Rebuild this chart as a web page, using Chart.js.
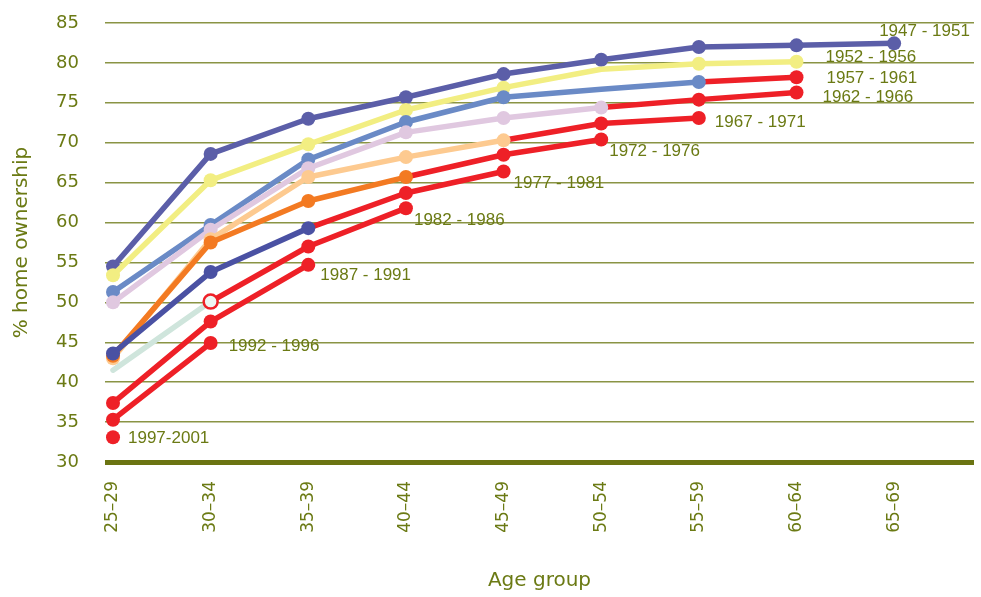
<!DOCTYPE html>
<html>
<head>
<meta charset="utf-8">
<script src="https://cdn.jsdelivr.net/npm/chart.js@4.4.1/dist/chart.umd.min.js"></script>
<style>
  html, body { margin: 0; padding: 0; background: #ffffff; }
  #wrap { width: 981px; height: 597px; position: relative; }
</style>
</head>
<body>
<div id="wrap"><canvas id="chart" width="981" height="597"></canvas></div>
<script>
// Age groups along the horizontal axis
const ageGroups = ['25–29', '30–34', '35–39', '40–44', '45–49', '50–54', '55–59', '60–64', '65–69'];

// Birth cohorts, one line each
const cohortNames = ['1947 - 1951', '1952 - 1956', '1957 - 1961', '1962 - 1966', '1967 - 1971',
                     '1972 - 1976', '1977 - 1981', '1982 - 1986', '1987 - 1991', '1992 - 1996', '1997-2001'];

// % home ownership by age group for each cohort
const c1947 = [54.5, 68.6, 73.0, 75.7, 78.6, 80.4, 82.0, 82.2, 82.45];
const c1952 = [53.4, 65.3, 69.8, 74.1, 76.9, 79.2, 79.9, 80.15];
const c1957 = [51.3, 59.7, 67.9, 72.6, 75.7, 76.7, 77.6, 78.2];
const c1962 = [50.0, 59.1, 66.8, 71.3, 73.1, 74.4, 75.4, 76.3];
const c1967 = [43.0, 57.9, 65.7, 68.2, 70.3, 72.4, 73.1];
const c1972 = [43.3, 57.5, 62.7, 65.7, 68.5, 70.4];
const c1977 = [43.6, 53.8, 59.3, 63.7, 66.4];
const c1982 = [41.5, 50.1, 57.0, 61.8];
const c1987 = [37.4, 47.6, 54.7];
const c1992 = [35.3, 44.9];
const c1997 = [33.1];

// Y axis range and step
const yMin = 30, yMax = 85, yStep = 5;

const cohortValues = [c1947, c1952, c1957, c1962, c1967, c1972, c1977, c1982, c1987, c1992, c1997];

// Styling
const cohortColours = ['#5b5ea8', '#f2ee82', '#6a8ac6', '#e0c8e0', '#fdca90', '#f37a22',
                       '#4a51a3', '#cfe5dc', '#ee2027', '#ee2027', '#ee2027'];
const recentRed = '#ee2027';
// index of the point from which the line turns red (null = never)
const redFrom = [null, null, 6, 5, 4, 3, 2, 1, 0, 0, 0];
// points drawn without a marker
const noMarker = { 1: [5], 2: [5], 7: [0] };
// label offset from each cohort's last point [dx, dy]
const labelOffsets = [[-15, -12], [29, -4], [30, 1], [26, 5], [16, 4], [8, 12], [10, 12], [8, 12], [12, 10], [18, 3], [15, 1]];

const olive = '#6b7a14';
const gridOlive = '#8a9444';

function markerColour(d, i) {
  const rf = redFrom[d];
  if (rf === null) return cohortColours[d];
  if (i > rf || rf === 0) return recentRed;
  if (d === 7 && i === rf) return '#eef6f2';
  return cohortColours[d];
}

const datasets = cohortValues.map((vals, d) => ({
  label: cohortNames[d],
  data: vals.map((v, i) => ({ x: i, y: v })),
  borderColor: cohortColours[d],
  backgroundColor: cohortColours[d],
  borderWidth: 5.5,
  borderCapStyle: 'round',
  borderJoinStyle: 'round',
  tension: 0,
  order: cohortValues.length - d,
  segment: {
    borderColor: ctx => (redFrom[d] !== null && ctx.p0DataIndex >= redFrom[d]) ? recentRed : cohortColours[d]
  },
  pointRadius: ctx => (noMarker[d] && noMarker[d].includes(ctx.dataIndex)) ? 0 : 7,
  pointBackgroundColor: ctx => markerColour(d, ctx.dataIndex),
  pointBorderColor: ctx => (d === 7 && ctx.dataIndex === 1) ? recentRed : markerColour(d, ctx.dataIndex),
  pointBorderWidth: ctx => (d === 7 && ctx.dataIndex === 1) ? 2.5 : 0
}));

// Writes each cohort's name beside its last point
const cohortLabels = {
  id: 'cohortLabels',
  afterDatasetsDraw(chart) {
    const ctx = chart.ctx;
    ctx.save();
    ctx.font = '17px "Liberation Sans", Arial, sans-serif';
    ctx.fillStyle = olive;
    ctx.textAlign = 'left';
    ctx.textBaseline = 'middle';
    chart.data.datasets.forEach((ds, d) => {
      const meta = chart.getDatasetMeta(d);
      const last = meta.data[meta.data.length - 1];
      const [dx, dy] = labelOffsets[d];
      ctx.fillText(ds.label, last.x + dx, last.y + dy);
    });
    ctx.restore();
  }
};

new Chart(document.getElementById('chart'), {
  type: 'line',
  data: { datasets },
  plugins: [cohortLabels],
  options: {
    responsive: false,
    animation: false,
    events: [],
    layout: { padding: { top: 0, right: 6, left: 0, bottom: 0 } },
    plugins: { legend: { display: false }, tooltip: { enabled: false } },
    scales: {
      x: {
        type: 'linear',
        min: -0.082,
        max: 8.818,
        grid: { display: false, drawTicks: false },
        border: { display: false },
        afterFit(scale) { scale.height = 135; },
        afterBuildTicks(scale) {
          scale.ticks = ageGroups.map((_, i) => ({ value: i }));
        },
        ticks: {
          autoSkip: false,
          maxRotation: 90,
          minRotation: 90,
          padding: 19,
          color: olive,
          font: { family: '"DejaVu Sans", sans-serif', size: 17 },
          callback: v => ageGroups[v] !== undefined ? ageGroups[v] : ''
        },
        title: {
          display: true,
          text: 'Age group',
          color: olive,
          font: { family: '"DejaVu Sans", sans-serif', size: 20 },
          padding: { top: 0, bottom: 4 }
        }
      },
      y: {
        min: yMin,
        max: yMax,
        afterFit(scale) {
          scale.width = 105;
          scale.paddingTop = 23;
          scale.paddingBottom = 12;
        },
        grid: {
          drawTicks: false,
          color: ctx => ctx.tick && ctx.tick.value === yMin ? '#6b7412' : gridOlive,
          lineWidth: ctx => ctx.tick && ctx.tick.value === yMin ? 5 : 1.5
        },
        border: { display: false },
        ticks: {
          stepSize: yStep,
          padding: 26,
          color: olive,
          font: { family: '"DejaVu Sans", sans-serif', size: 18 }
        },
        title: {
          display: true,
          text: '% home ownership',
          color: olive,
          font: { family: '"DejaVu Sans", sans-serif', size: 20 },
          padding: { top: 10, bottom: 0 }
        }
      }
    }
  }
});
</script>
</body>
</html>
